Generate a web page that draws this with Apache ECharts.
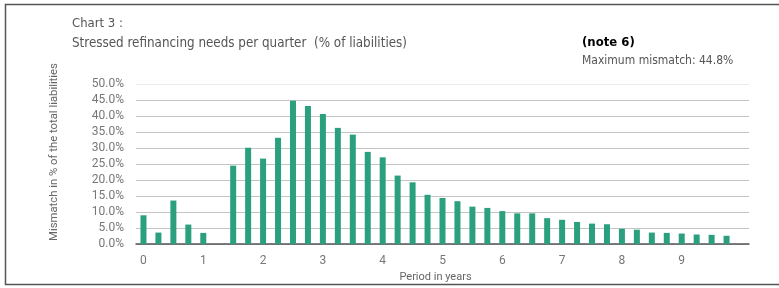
<!DOCTYPE html>
<html>
<head>
<meta charset="utf-8">
<script src="https://cdn.jsdelivr.net/npm/echarts@6/dist/echarts.min.js"></script>
<style>
html, body {margin:0; padding:0; background:#fff;}
#chart3 {width:779px; height:288px;}
</style>
</head>
<body>
<div id="chart3"></div>
<script type="text/javascript">
	// quarters 0..40, label every 4 quarters (= 1 year)
	var quarterLabels = ['0','','','','1','','','','2','','','','3','','','','4','','','','5','','','','6','','','','7','','','','8','','','','9','','','',''];
	var mismatch = [9.0, 3.6, 13.6, 6.1, 3.5, null, 24.5, 30.1, 26.7, 33.2,
		44.8, 43.1, 40.6, 36.3, 34.2, 28.8, 27.1, 21.4, 19.3, 15.4,
		14.4, 13.4, 11.7, 11.3, 10.3, 9.6, 9.6, 8.1, 7.6, 6.9,
		6.4, 6.2, 4.8, 4.5, 3.6, 3.5, 3.3, 3.0, 2.9, 2.6, null];
	var titleLines = ['Chart 3 :', 'Stressed refinancing needs per quarter  (% of liabilities)'];
	var noteText = '(note 6)';
	var maxText = 'Maximum mismatch: 44.8%';
	var yName = 'Mismatch in % of the total liabilities';

	var narrowFont = '"Liberation Sans Narrow", "DejaVu Sans Condensed", sans-serif';
	var plainFont = 'Roboto, "Noto Sans", sans-serif';
	// top grid line (50%) is lighter than the others
	var gridColors = ['#c4c4c4','#c4c4c4','#c4c4c4','#c4c4c4','#c4c4c4','#c4c4c4','#c4c4c4','#c4c4c4','#c4c4c4','#c4c4c4','#ebebeb'];
	var dom = document.getElementById("chart3");
	var myChart = echarts.init(dom);
	var option = {
		animation: false,
		textStyle: {fontFamily: plainFont},
		title: [
			{text: titleLines[0], left: 72, top: 17, padding: 0, textStyle: {fontSize: 13, fontWeight: 'normal', color: '#555', fontFamily: narrowFont}},
			{text: titleLines[1], left: 72, top: 37, padding: 0, textStyle: {fontSize: 13.3, fontWeight: 'normal', color: '#555', fontFamily: narrowFont}},
			{text: noteText, left: 582, top: 36, padding: 0, textStyle: {fontSize: 13, fontWeight: 'bold', color: '#000', fontFamily: narrowFont}},
			{text: maxText, left: 582, top: 55, padding: 0, textStyle: {fontSize: 12, fontWeight: 'normal', color: '#555', fontFamily: narrowFont}}
		],
		graphic: [
			{type: 'polyline', shape: {points: [[790, 4.5], [5.5, 4.5], [5.5, 284.5], [790, 284.5]]}, style: {stroke: '#555', lineWidth: 1.5, fill: null}},
			{type: 'text', x: 54, y: 152, rotation: Math.PI / 2, style: {text: yName, fill: '#666', font: '11.3px ' + plainFont, align: 'center', verticalAlign: 'middle'}}
		],
		grid: {left: 136, right: 30, top: 84, bottom: 43},
		xAxis: {
			type: 'category',
			data: quarterLabels,
			name: 'Period in years',
			nameLocation: 'middle',
			nameGap: 19,
			nameTextStyle: {fontSize: 11, color: '#666', padding: [0, 14, 0, 0]},
			axisLine: {lineStyle: {color: '#555', width: 1.5}},
			axisTick: {interval: 0, length: 4, lineStyle: {color: '#333'}},
			axisLabel: {interval: 0, fontSize: 12, color: '#777', margin: 11}
		},
		yAxis: {
			type: 'value',
			min: 0,
			max: 50,
			interval: 5,
			axisLine: {show: false},
			axisTick: {show: false},
			axisLabel: {fontSize: 12, color: '#777', margin: 12, formatter: function (v) { return v.toFixed(1) + '%'; }},
			splitLine: {lineStyle: {color: gridColors, width: 1.2}}
		},
		series: [
			{
				name: 'Mismatch',
				type: 'bar',
				data: mismatch,
				barWidth: 6,
				itemStyle: {color: '#2aa07e'}
			}
		]
	};
	if (option && typeof option === "object") {
		myChart.setOption(option, true);
	}
</script>
</body>
</html>
